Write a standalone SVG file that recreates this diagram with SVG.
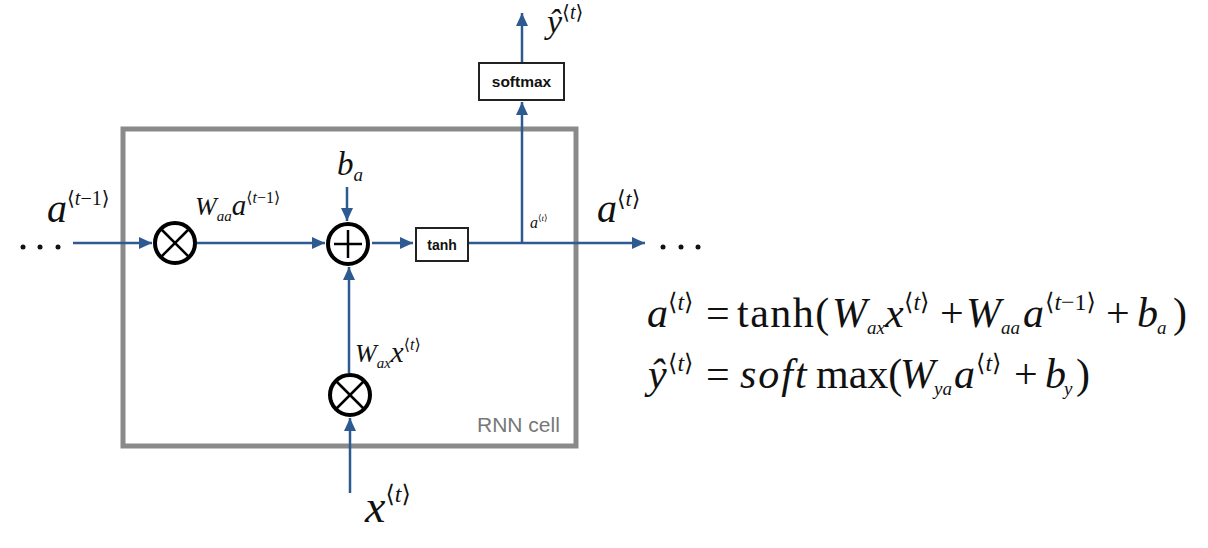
<svg xmlns="http://www.w3.org/2000/svg" width="1208" height="548" viewBox="0 0 1208 548">
<style>
.m{font-family:"Liberation Serif","DejaVu Serif",serif;font-style:italic;fill:#111}
.r{font-family:"Liberation Serif","DejaVu Serif",serif;font-style:normal;fill:#111}
.b{font-family:"Liberation Sans",Arial,sans-serif;font-weight:bold;fill:#111}
.ln{stroke:#2e5a92;stroke-width:2.5;fill:none}
.op{fill:#fff;stroke:#000;stroke-width:4}
.opl{stroke:#000;stroke-width:2.5}
.bx{fill:#fff;stroke:#222;stroke-width:2}
</style>
<defs>
<marker id="ah" markerUnits="userSpaceOnUse" markerWidth="14" markerHeight="12" refX="13" refY="6" orient="auto">
<path d="M0,0 L13,6 L0,12 z" fill="#2e5a92"/>
</marker>
</defs>
<rect width="1208" height="548" fill="#fff"/>
<g id="cell">
<rect x="123" y="129" width="453" height="317" fill="none" stroke="#8a8a8a" stroke-width="5"/>
<text x="477" y="432" font-family="Liberation Sans,Arial,sans-serif" font-size="21" fill="#777">RNN cell</text>
</g>
<g id="connectors">
<line class="ln" x1="73" y1="243" x2="152" y2="243" marker-end="url(#ah)"/>
<line class="ln" x1="197" y1="243" x2="325" y2="243" marker-end="url(#ah)"/>
<line class="ln" x1="372" y1="243" x2="413" y2="243" marker-end="url(#ah)"/>
<line class="ln" x1="468" y1="243" x2="645" y2="243" marker-end="url(#ah)"/>
<line class="ln" x1="522" y1="243" x2="522" y2="102" marker-end="url(#ah)"/>
<line class="ln" x1="522" y1="63" x2="522" y2="13" marker-end="url(#ah)"/>
<line class="ln" x1="347" y1="187" x2="347" y2="221" marker-end="url(#ah)"/>
<line class="ln" x1="349" y1="373" x2="349" y2="267" marker-end="url(#ah)"/>
<line class="ln" x1="350" y1="493" x2="350" y2="418" marker-end="url(#ah)"/>
</g>
<g id="mul1">
<circle class="op" cx="175" cy="243" r="20"/>
<line class="opl" x1="161" y1="229" x2="189" y2="257"/>
<line class="opl" x1="189" y1="229" x2="161" y2="257"/>
</g>
<g id="add">
<circle class="op" cx="348" cy="244" r="20"/>
<line class="opl" x1="334" y1="244" x2="362" y2="244"/>
<line class="opl" x1="348" y1="230" x2="348" y2="258"/>
</g>
<g id="mul2">
<circle class="op" cx="350" cy="395" r="20"/>
<line class="opl" x1="336" y1="381" x2="364" y2="409"/>
<line class="opl" x1="364" y1="381" x2="336" y2="409"/>
</g>
<g id="tanh">
<rect class="bx" x="416" y="228" width="52" height="33"/>
<text class="b" x="442" y="250" font-size="14" text-anchor="middle">tanh</text>
</g>
<g id="softmax">
<rect class="bx" x="479" y="63" width="85" height="37"/>
<text class="b" x="521.5" y="87" font-size="15.5" text-anchor="middle">softmax</text>
</g>
<g id="labels">
<g fill="#111">
<circle cx="23" cy="247" r="2.5"/><circle cx="40" cy="247" r="2.5"/><circle cx="58" cy="247" r="2.5"/>
<circle cx="663" cy="247" r="2.5"/><circle cx="681" cy="247" r="2.5"/><circle cx="698" cy="247" r="2.5"/>
</g>
<text class="m" x="47" y="222" font-size="40">a<tspan font-size="20" y="205" class="r">⟨<tspan class="m">t</tspan>−1⟩</tspan></text>
<text class="m" x="195" y="215" font-size="26">W<tspan font-size="15" y="221">aa</tspan><tspan font-size="29" y="215">a</tspan><tspan font-size="16" y="203" class="r">⟨<tspan class="m">t</tspan>−1⟩</tspan></text>
<text class="m" x="337" y="175" font-size="33">b<tspan font-size="19" y="181">a</tspan></text>
<text class="m" x="530" y="228" font-size="16">a<tspan font-size="9" y="221" class="r">⟨<tspan class="m">t</tspan>⟩</tspan></text>
<text class="m" x="597" y="222" font-size="40">a<tspan font-size="22" y="206" class="r">⟨<tspan class="m">t</tspan>⟩</tspan></text>
<text class="m" x="547" y="33" font-size="34">ŷ<tspan font-size="20" y="19" class="r">⟨<tspan class="m">t</tspan>⟩</tspan></text>
<text class="m" x="355" y="362" font-size="26">W<tspan font-size="15" y="368">ax</tspan><tspan font-size="29" y="362">x</tspan><tspan font-size="16" y="350" class="r">⟨<tspan class="m">t</tspan>⟩</tspan></text>
<text class="m" x="365" y="522" font-size="46">x<tspan font-size="24" y="502" class="r">⟨<tspan class="m">t</tspan>⟩</tspan></text>
</g>
<g id="equations">
<text class="m" x="647" y="327" font-size="42">a<tspan class="r" font-size="24" x="668" y="310">⟨<tspan class="m">t</tspan>⟩</tspan><tspan class="r" x="706" y="327">=</tspan><tspan class="r" x="737" letter-spacing="1.5">tanh(</tspan><tspan x="832" letter-spacing="0">W</tspan><tspan font-size="19" x="867" y="334">ax</tspan><tspan x="885" y="327">x</tspan><tspan class="r" font-size="24" x="904" y="310">⟨<tspan class="m">t</tspan>⟩</tspan><tspan class="r" x="940" y="327">+</tspan><tspan x="966">W</tspan><tspan font-size="19" x="1001" y="334">aa</tspan><tspan x="1023" y="327">a</tspan><tspan class="r" font-size="24" x="1045" y="310">⟨<tspan class="m">t</tspan>−1⟩</tspan><tspan class="r" x="1106" y="327">+</tspan><tspan x="1137">b</tspan><tspan font-size="19" x="1157" y="334">a</tspan><tspan class="r" x="1173" y="327">)</tspan></text>
<text class="m" x="648" y="388" font-size="42">ŷ<tspan class="r" font-size="24" x="668" y="371">⟨<tspan class="m">t</tspan>⟩</tspan><tspan class="r" x="706" y="388">=</tspan><tspan x="740" letter-spacing="2">soft</tspan><tspan class="r" x="816" letter-spacing="0">max(</tspan><tspan x="900">W</tspan><tspan font-size="19" x="934" y="395">ya</tspan><tspan x="954" y="388">a</tspan><tspan class="r" font-size="24" x="976" y="371">⟨<tspan class="m">t</tspan>⟩</tspan><tspan class="r" x="1014" y="388">+</tspan><tspan x="1045">b</tspan><tspan font-size="19" x="1064" y="395">y</tspan><tspan class="r" x="1076" y="388">)</tspan></text>
</g>
</svg>
